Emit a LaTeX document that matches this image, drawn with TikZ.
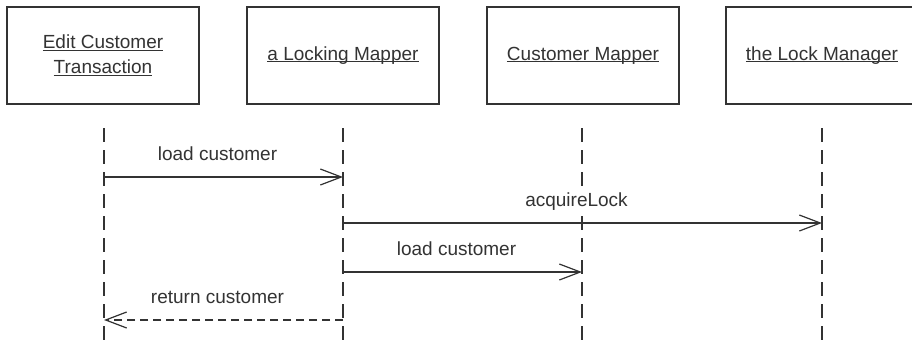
\documentclass[tikz,border=0pt]{standalone}
\usepackage{fontspec}
\setmainfont{Liberation Sans}
\usetikzlibrary{arrows.meta}
\definecolor{ink}{rgb}{0.2,0.2,0.2}
\newcommand{\ulx}[1]{\setbox0\hbox{#1}\rlap{\rule[-2pt]{\wd0}{1pt}}\box0}
\begin{document}
\begin{tikzpicture}[x=1pt,y=-1pt,
  obj/.style={draw=ink, line width=1.2pt, minimum width=192pt, minimum height=97pt,
    align=center, text=ink, font=\fontsize{19}{25}\selectfont, inner sep=0pt},
  life/.style={draw=ink, line width=1.2pt, dash pattern=on 14pt off 8pt},
  msg/.style={draw=ink, line width=1.2pt, -{Straight Barb[length=21pt,width=16pt]}},
  ret/.style={msg, dash pattern=on 8pt off 5pt},
  lbl/.style={text=ink, font=\fontsize{19}{23}\selectfont, inner sep=1pt, anchor=base, fill=white}]
\useasboundingbox (0,0) rectangle (912,346);
\fill[white] (0,0) rectangle (912,346);
% objects
\node[obj] (b1) at (103,55.5) {\ulx{Edit Customer}\\\ulx{Transaction}};
\node[obj] (b2) at (343,55.5) {\ulx{a Locking Mapper}};
\node[obj] (b3) at (583,55.5) {\ulx{Customer Mapper}};
\node[obj] (b4) at (822,55.5) {\ulx{the Lock Manager}};
% lifelines
\coordinate (t1) at (104,128); \coordinate (e1) at (104,350);
\coordinate (t2) at (343,128); \coordinate (e2) at (343,350);
\coordinate (t3) at (582,128); \coordinate (e3) at (582,350);
\coordinate (t4) at (822,128); \coordinate (e4) at (822,350);
\draw[life] (t1) -- (e1);
\draw[life] (t2) -- (e2);
\draw[life] (t3) -- (e3);
\draw[life] (t4) -- (e4);
% messages
\coordinate (m1s) at (104,177); \coordinate (m1e) at (343,177);
\coordinate (m2s) at (343,223); \coordinate (m2e) at (822,223);
\coordinate (m3s) at (343,272); \coordinate (m3e) at (582,272);
\coordinate (m4s) at (343,320); \coordinate (m4e) at (104,320);
\draw[msg] (m1s) -- (m1e) node[lbl, midway, yshift=17pt, xshift=-6pt] (l1) {load customer};
\draw[msg] (m2s) -- (m2e) node[lbl, midway, yshift=17pt, xshift=-6pt] (l2) {acquireLock};
\draw[msg] (m3s) -- (m3e) node[lbl, midway, yshift=17pt, xshift=-6pt] (l3) {load customer};
\draw[ret] (m4s) -- (m4e) node[lbl, midway, yshift=17pt, xshift=-6pt] (l4) {return customer};
\end{tikzpicture}
\end{document}
